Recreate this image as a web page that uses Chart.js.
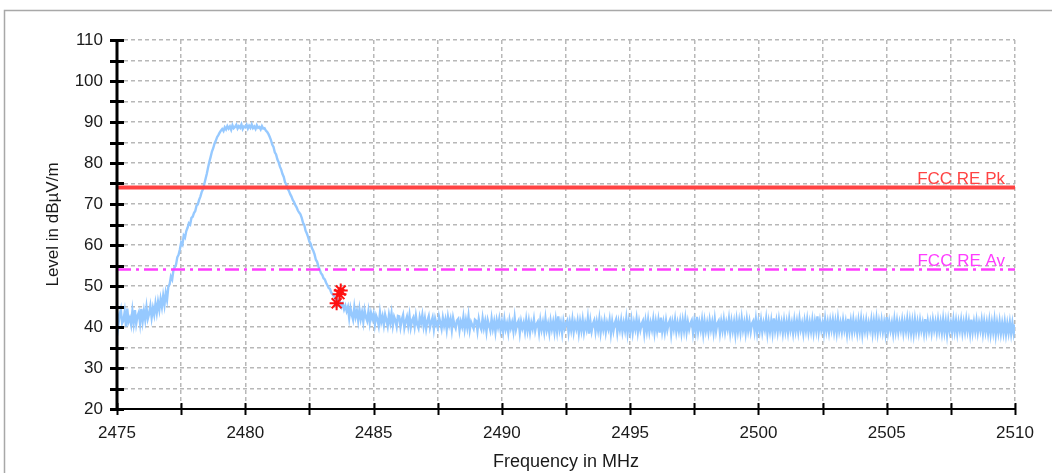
<!DOCTYPE html>
<html>
<head>
<meta charset="utf-8">
<script src="https://cdn.jsdelivr.net/npm/chart.js@4.4.1/dist/chart.umd.min.js"></script>
<style>
  html, body { margin: 0; padding: 0; background: #fff; }
  canvas { display: block; }
</style>
</head>
<body>
<canvas id="spectrum-chart" width="1052" height="473"></canvas>
<script>
// sweep: 2475 .. 2510 MHz, one reading every 0.05 MHz (one row per MHz)
const sweepStart = 2475;
const sweepStep = 0.05;
const traceLevels = [
  43.8, 40.4, 42.9, 44.3, 40.9, 41.6, 43.7, 40.1, 44.5, 41.3, 42.2, 40.6, 43.9, 41.0, 44.1, 40.8, 42.7, 43.6, 40.9, 44.4,
  41.4, 43.9, 41.8, 44.8, 42.0, 43.2, 45.1, 42.3, 44.6, 43.0, 45.7, 43.5, 46.1, 44.2, 46.8, 44.9, 47.6, 45.4, 48.3, 46.6,
  49.8, 50.4, 52.3, 51.6, 53.9, 54.6, 55.2, 57.0, 57.6, 58.9, 60.6, 60.1, 62.3, 61.8, 63.4, 64.2, 65.3, 65.0, 66.6, 66.9,
  67.8, 68.3, 69.6, 69.9, 71.0, 71.8, 72.9, 73.6, 74.8, 76.1, 77.4, 78.9, 80.3, 81.5, 82.8, 83.6, 84.7, 85.4, 86.3, 86.8,
  87.4, 87.9, 88.3, 87.8, 88.7, 88.2, 89.0, 88.4, 88.9, 88.1, 89.2, 88.5, 88.8, 89.3, 88.4, 89.0, 88.6, 89.4, 88.3, 88.9,
  88.7, 89.3, 88.4, 89.1, 88.6, 89.4, 88.5, 88.9, 88.3, 89.2, 88.6, 88.8, 88.2, 89.0, 88.4, 88.5, 87.9, 87.6, 87.1, 86.4,
  85.6, 84.5, 83.9, 82.6, 82.1, 80.9, 80.2, 79.1, 78.4, 77.3, 76.6, 75.3, 74.7, 73.8, 73.2, 72.4, 71.8, 71.0, 70.5, 69.7,
  69.2, 68.4, 67.9, 67.5, 66.6, 65.4, 64.9, 63.5, 62.8, 61.9, 60.8, 60.3, 59.2, 58.6, 57.7, 56.4, 55.9, 54.8, 54.0, 53.1,
  52.7, 51.9, 51.6, 50.8, 50.2, 49.5, 49.3, 48.4, 48.0, 47.6, 47.1, 46.3, 46.7, 45.5, 46.0, 44.9, 45.6, 44.3, 45.2, 43.9,
  44.9, 42.2, 44.6, 43.0, 41.8, 44.8, 42.5, 43.9, 41.6, 44.3, 42.0, 43.6, 41.3, 44.1, 42.4, 41.5, 43.8, 41.1, 43.4, 42.0,
  43.2, 40.6, 42.8, 41.9, 40.3, 43.5, 41.2, 42.6, 40.5, 43.0, 41.7, 40.2, 42.9, 41.1, 43.3, 40.4, 42.5, 41.6, 40.1, 42.7,
  42.6, 40.0, 41.8, 42.9, 39.8, 41.4, 42.5, 40.3, 42.8, 39.9, 41.6, 42.3, 40.1, 42.7, 40.6, 39.7, 42.4, 41.0, 42.9, 40.2,
  42.1, 39.6, 41.5, 42.6, 39.9, 41.2, 42.3, 39.5, 42.0, 40.7, 39.8, 42.5, 41.1, 39.6, 42.2, 40.3, 41.8, 39.4, 42.4, 40.5,
  41.9, 39.3, 42.2, 40.6, 39.7, 41.6, 42.0, 39.2, 41.3, 40.1, 42.4, 39.5, 41.7, 39.9, 42.6, 39.3, 41.2, 40.4, 39.6, 41.8,
  41.5, 39.1, 41.9, 40.2, 39.4, 42.1, 39.8, 41.4, 38.9, 41.7, 40.5, 39.2, 42.0, 39.6, 41.3, 38.8, 41.6, 40.0, 41.9, 39.3,
  41.2, 38.9, 41.8, 39.5, 40.9, 38.7, 41.6, 39.8, 41.1, 39.0, 42.2, 39.4, 40.8, 41.5, 38.6, 41.3, 39.7, 41.0, 38.9, 41.7,
  39.2, 41.4, 38.8, 41.0, 39.6, 41.8, 39.1, 40.7, 41.3, 38.7, 41.6, 39.4, 41.1, 38.9, 42.0, 39.3, 40.8, 38.6, 41.5, 39.5,
  41.2, 38.8, 41.7, 39.1, 42.6, 39.4, 41.0, 38.5, 41.4, 39.7, 40.9, 41.6, 38.7, 41.2, 39.3, 41.8, 38.9, 41.1, 39.6, 41.5,
  38.6, 41.3, 39.2, 41.7, 38.8, 41.0, 39.5, 42.1, 38.4, 41.4, 39.0, 40.8, 41.6, 38.9, 41.2, 39.3, 41.9, 38.7, 41.1, 39.4,
  41.5, 38.8, 41.0, 39.6, 41.7, 38.5, 41.3, 39.1, 40.9, 41.8, 38.7, 41.2, 39.4, 41.6, 38.9, 41.0, 39.2, 42.0, 38.6, 41.3,
  39.0, 41.6, 38.7, 41.1, 39.5, 41.9, 38.8, 41.2, 39.3, 40.8, 41.5, 38.5, 41.4, 39.1, 41.7, 38.9, 41.0, 39.4, 41.8, 38.7,
  41.3, 39.2, 41.6, 38.6, 42.3, 39.0, 41.1, 38.8, 41.5, 39.3, 40.9, 41.7, 38.4, 41.2, 39.5, 41.8, 38.9, 41.0, 39.1, 41.4,
  38.7, 41.5, 39.2, 41.9, 38.8, 41.2, 39.4, 40.9, 41.6, 38.6, 41.3, 39.0, 42.5, 38.9, 41.1, 39.3, 41.7, 38.5, 41.4, 39.1,
  41.0, 38.8, 41.6, 39.4, 41.2, 38.7, 41.8, 39.0, 40.9, 41.5, 38.6, 41.3, 39.2, 41.7, 38.9, 41.1, 39.5, 41.9, 38.7, 41.4,
  39.1, 41.2, 38.3, 41.6, 39.0, 41.4, 38.8, 42.0, 39.3, 41.1, 38.6, 41.7, 39.2, 41.3, 38.9, 40.9, 41.5, 39.0, 41.8, 38.7,
  41.3, 39.1, 41.6, 38.8, 41.0, 39.4, 41.9, 38.5, 41.2, 39.0, 41.5, 38.7, 42.1, 39.2, 41.4, 38.9, 41.7, 39.3, 41.1, 38.6,
  41.5, 39.0, 41.2, 38.8, 41.8, 39.3, 41.0, 38.6, 41.6, 39.1, 41.3, 38.9, 41.9, 39.4, 40.9, 38.5, 41.4, 39.2, 41.7, 38.8,
  41.1, 39.0, 41.6, 38.7, 41.3, 39.2, 42.6, 38.9, 41.4, 39.3, 41.0, 38.6, 41.8, 39.1, 41.2, 38.8, 41.5, 39.4, 41.7, 38.9,
  41.3, 38.7, 41.9, 39.1, 41.0, 38.9, 41.6, 39.3, 41.2, 38.5, 42.0, 39.0, 41.4, 38.8, 41.7, 39.2, 41.1, 38.6, 41.5, 39.0,
  41.8, 38.4, 41.2, 39.1, 41.5, 38.8, 41.0, 39.3, 41.7, 38.6, 41.4, 39.0, 41.9, 38.7, 41.3, 39.2, 41.6, 38.9, 41.1, 38.6,
  42.4, 38.9, 41.3, 39.2, 41.0, 38.5, 41.7, 39.0, 41.4, 38.8, 41.1, 39.3, 41.6, 38.7, 41.2, 39.1, 41.8, 38.9, 41.5, 38.6,
  41.3, 38.5, 41.7, 39.0, 41.2, 38.8, 41.5, 39.2, 41.0, 38.6, 41.9, 38.9, 41.4, 39.1, 41.1, 38.7, 41.6, 39.3, 41.2, 38.8,
  41.6, 39.0, 41.2, 38.7, 41.8, 38.9, 41.3, 38.3, 41.5, 39.1, 41.0, 38.8, 41.7, 39.0, 41.4, 38.6, 41.2, 39.2, 41.6, 38.7,
  41.1, 38.9, 41.7, 39.1, 41.3, 38.5, 41.8, 38.8, 41.2, 39.0, 41.5, 38.7, 41.0, 39.2, 41.6, 38.6, 41.3, 38.9, 41.1, 38.6,
  41.4, 38.4, 41.1, 38.8, 41.6, 38.2, 41.0, 38.7, 41.3, 38.5, 40.9, 38.6, 41.2, 38.3, 40.8, 38.6, 41.1, 38.4, 40.9, 38.5,
  40.6
];

const limitNames = ["FCC RE Pk", "FCC RE Av"];
const limitLevels = [74, 54];
const limitColors = ["#ff4343", "#ff3cff"];

const markerFreqs = [2483.56, 2483.67, 2483.72];
const markerLevels = [45.8, 48.0, 48.9];

const xMin = 2475;
const xMax = 2510;
const yMin = 20;
const yMax = 110;

const FONT = "'Liberation Sans', Arial, sans-serif";

function flatLine(level) {
  return [{ x: xMin, y: level }, { x: xMax, y: level }];
}

// frame round the whole picture
const framePlugin = {
  id: "frame",
  beforeDraw(chart) {
    const { ctx } = chart;
    ctx.save();
    ctx.strokeStyle = "#a8a8a8";
    ctx.lineWidth = 1.5;
    ctx.strokeRect(4.5, 10.5, 1200, 800);
    ctx.restore();
  },
};

// limit names written above their lines, at the right end
const limitLabelPlugin = {
  id: "limitLabels",
  afterDatasetsDraw(chart) {
    const { ctx, chartArea, scales } = chart;
    ctx.save();
    ctx.font = `17px ${FONT}`;
    ctx.textAlign = "right";
    ctx.textBaseline = "alphabetic";
    limitNames.forEach((name, i) => {
      ctx.fillStyle = limitColors[i];
      ctx.fillText(name, chartArea.right - 10, scales.y.getPixelForValue(limitLevels[i]) - 4);
    });
    ctx.restore();
  },
};

// black axes with tick marks crossing them
const axesPlugin = {
  id: "crossAxes",
  afterDraw(chart) {
    const { ctx, chartArea: a, scales } = chart;
    ctx.save();
    ctx.strokeStyle = "#000";

    ctx.lineWidth = 2;
    ctx.beginPath();
    ctx.moveTo(a.left, a.bottom);
    ctx.lineTo(a.right, a.bottom);
    ctx.stroke();
    scales.x.ticks.forEach((t) => {
      const px = Math.round(scales.x.getPixelForValue(t.value)) + 0.5;
      ctx.beginPath();
      ctx.moveTo(px, a.bottom - 6);
      ctx.lineTo(px, a.bottom + 6);
      ctx.stroke();
    });

    ctx.lineWidth = 3;
    ctx.beginPath();
    ctx.moveTo(a.left, a.top - 1);
    ctx.lineTo(a.left, a.bottom + 1);
    ctx.stroke();
    scales.y.ticks.forEach((t) => {
      const py = Math.round(scales.y.getPixelForValue(t.value)) + 0.5;
      ctx.beginPath();
      ctx.moveTo(a.left - 7, py);
      ctx.lineTo(a.left + 7, py);
      ctx.stroke();
    });
    ctx.restore();
  },
};

const gridOptions = { color: "#b8b8b8", lineWidth: 1.5, drawTicks: false };
const borderOptions = { display: false, dash: [4, 3] };

new Chart(document.getElementById("spectrum-chart"), {
  type: "line",
  data: {
    datasets: [
      {
        label: "Trace",
        data: traceLevels.map((v, i) => ({ x: sweepStart + i * sweepStep, y: v })),
        borderColor: "#96c9ff",
        borderWidth: 2.4,
        pointRadius: 0,
        order: 3,
      },
      {
        label: limitNames[0],
        data: flatLine(limitLevels[0]),
        borderColor: limitColors[0],
        borderWidth: 4,
        pointRadius: 0,
        order: 2,
      },
      {
        label: limitNames[1],
        data: flatLine(limitLevels[1]),
        borderColor: limitColors[1],
        borderWidth: 2.5,
        borderDash: [14, 5, 3, 5],
        pointRadius: 0,
        order: 1,
      },
      {
        label: "Markers",
        data: markerFreqs.map((f, i) => ({ x: f, y: markerLevels[i] })),
        showLine: false,
        pointStyle: "star",
        pointRadius: 7,
        pointBorderWidth: 2,
        pointBorderColor: "#ff1010",
        pointBackgroundColor: "#ff1010",
        order: 0,
      },
    ],
  },
  options: {
    responsive: false,
    animation: false,
    devicePixelRatio: 1,
    layout: { padding: { top: 40, right: 37, left: 0, bottom: 0 } },
    plugins: { legend: { display: false }, tooltip: { enabled: false } },
    scales: {
      x: {
        type: "linear",
        min: xMin,
        max: xMax,
        afterFit: (scale) => { scale.height = 64; },
        ticks: {
          stepSize: 2.5,
          autoSkip: false,
          maxRotation: 0,
          padding: 14,
          color: "#1a1a1a",
          font: { family: FONT, size: 17 },
          callback: (v) => (v % 5 === 0 ? String(v) : ""),
        },
        grid: gridOptions,
        border: borderOptions,
        title: {
          display: true,
          text: "Frequency in MHz",
          color: "#1a1a1a",
          font: { family: FONT, size: 18 },
          padding: { top: 0, bottom: 0 },
        },
      },
      y: {
        min: yMin,
        max: yMax,
        afterFit: (scale) => { scale.width = 117; },
        ticks: {
          stepSize: 5,
          autoSkip: false,
          padding: 14,
          color: "#1a1a1a",
          font: { family: FONT, size: 17 },
          callback: (v) => (v % 10 === 0 ? String(v) : ""),
        },
        grid: gridOptions,
        border: borderOptions,
        title: {
          display: true,
          text: "Level in dBµV/m",
          color: "#1a1a1a",
          font: { family: FONT, size: 17 },
          padding: { top: 43, bottom: 0 },
        },
      },
    },
  },
  plugins: [framePlugin, limitLabelPlugin, axesPlugin],
});
</script>
</body>
</html>
